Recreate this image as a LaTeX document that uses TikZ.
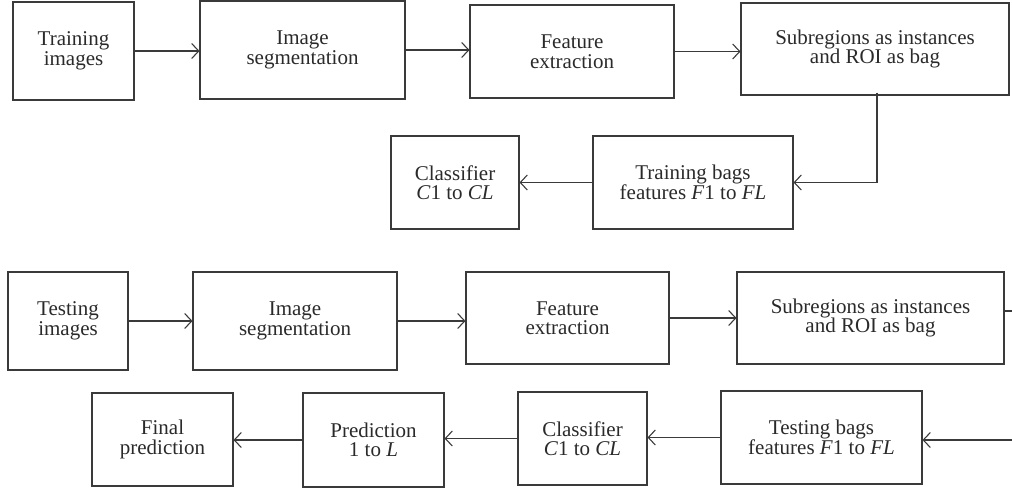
\documentclass[tikz,border=0pt]{standalone}
\usepackage{fontspec}
\setmainfont{Liberation Serif}
\usetikzlibrary{arrows.meta}
\definecolor{ln}{HTML}{3A3A3A}
\definecolor{tx}{HTML}{2A2A2A}
\tikzset{
  box/.style={draw=ln, line width=1.1pt, align=center, inner sep=0pt, text=tx,
    font=\fontsize{21}{19.5}\selectfont},
  conn/.style={draw=ln, line width=1.1pt, -{Straight Barb[length=7pt,width=15pt,line width=1.1pt]}},
  plain/.style={draw=ln, line width=1.1pt}
}
\begin{document}
\begin{tikzpicture}[x=1pt,y=-1pt]
\useasboundingbox (0,0) rectangle (1012,488);
% top row
\node[box, minimum width=121pt, minimum height=98pt] (tri) at (73.5,51) {Training\\images};
\node[box, minimum width=205pt, minimum height=98pt] (tseg) at (302.5,50) {Image\\segmentation};
\node[box, minimum width=204pt, minimum height=93pt] (tfeat) at (572,51.5) {Feature\\extraction};
\node[box, minimum width=268pt, minimum height=92pt] (tsub) at (875,49) {Subregions as instances\\and ROI as bag};
\node[box, minimum width=200pt, minimum height=93pt] (tbags) at (693,182.5) {Training bags\\features \textit{F}1 to \textit{FL}};
\node[box, minimum width=128pt, minimum height=93pt] (tcls) at (455,182.5) {Classifier\\\textit{C}1 to \textit{CL}};
\draw[conn] (tri.east) -- (tri.east -| tseg.west);
\draw[conn] (tseg.east) -- (tseg.east -| tfeat.west);
\draw[conn] (tfeat.east) -- (tfeat.east -| tsub.west);
\draw[conn] ([xshift=2pt,yshift=3pt]tsub.south) |- (tbags.east);
\draw[conn] (tbags.west) -- (tbags.west -| tcls.east);
% bottom rows
\node[box, minimum width=120pt, minimum height=98pt] (bti) at (68,321) {Testing\\images};
\node[box, minimum width=204pt, minimum height=98pt] (bseg) at (295,321) {Image\\segmentation};
\node[box, minimum width=203pt, minimum height=92pt] (bfeat) at (567.5,318) {Feature\\extraction};
\node[box, minimum width=267pt, minimum height=92pt] (bsub) at (870.5,318) {Subregions as instances\\and ROI as bag};
\node[box, minimum width=201pt, minimum height=93pt] (btbags) at (821.5,437.5) {Testing bags\\features \textit{F}1 to \textit{FL}};
\node[box, minimum width=129pt, minimum height=93pt] (bcls) at (582.5,438.5) {Classifier\\\textit{C}1 to \textit{CL}};
\node[box, minimum width=141pt, minimum height=94pt] (bpred) at (373.5,440) {Prediction\\1 to \textit{L}};
\node[box, minimum width=141pt, minimum height=93pt] (bfinal) at (162.5,439.5) {Final\\prediction};
\coordinate (edge1) at (1012,311);
\coordinate (edge2) at (1012,440);
\draw[conn] (bti.east) -- (bti.east -| bseg.west);
\draw[conn] (bseg.east) -- (bseg.east -| bfeat.west);
\draw[conn] (bfeat.east) -- (bfeat.east -| bsub.west);
\draw[plain] (edge1 -| bsub.east) -- (edge1);
\draw[conn] (edge2) -- (edge2 -| btbags.east);
\draw[conn] (btbags.west) -- (btbags.west -| bcls.east);
\draw[conn] (bcls.west) -- (bcls.west -| bpred.east);
\draw[conn] (bpred.west) -- (bpred.west -| bfinal.east);
\end{tikzpicture}
\end{document}
